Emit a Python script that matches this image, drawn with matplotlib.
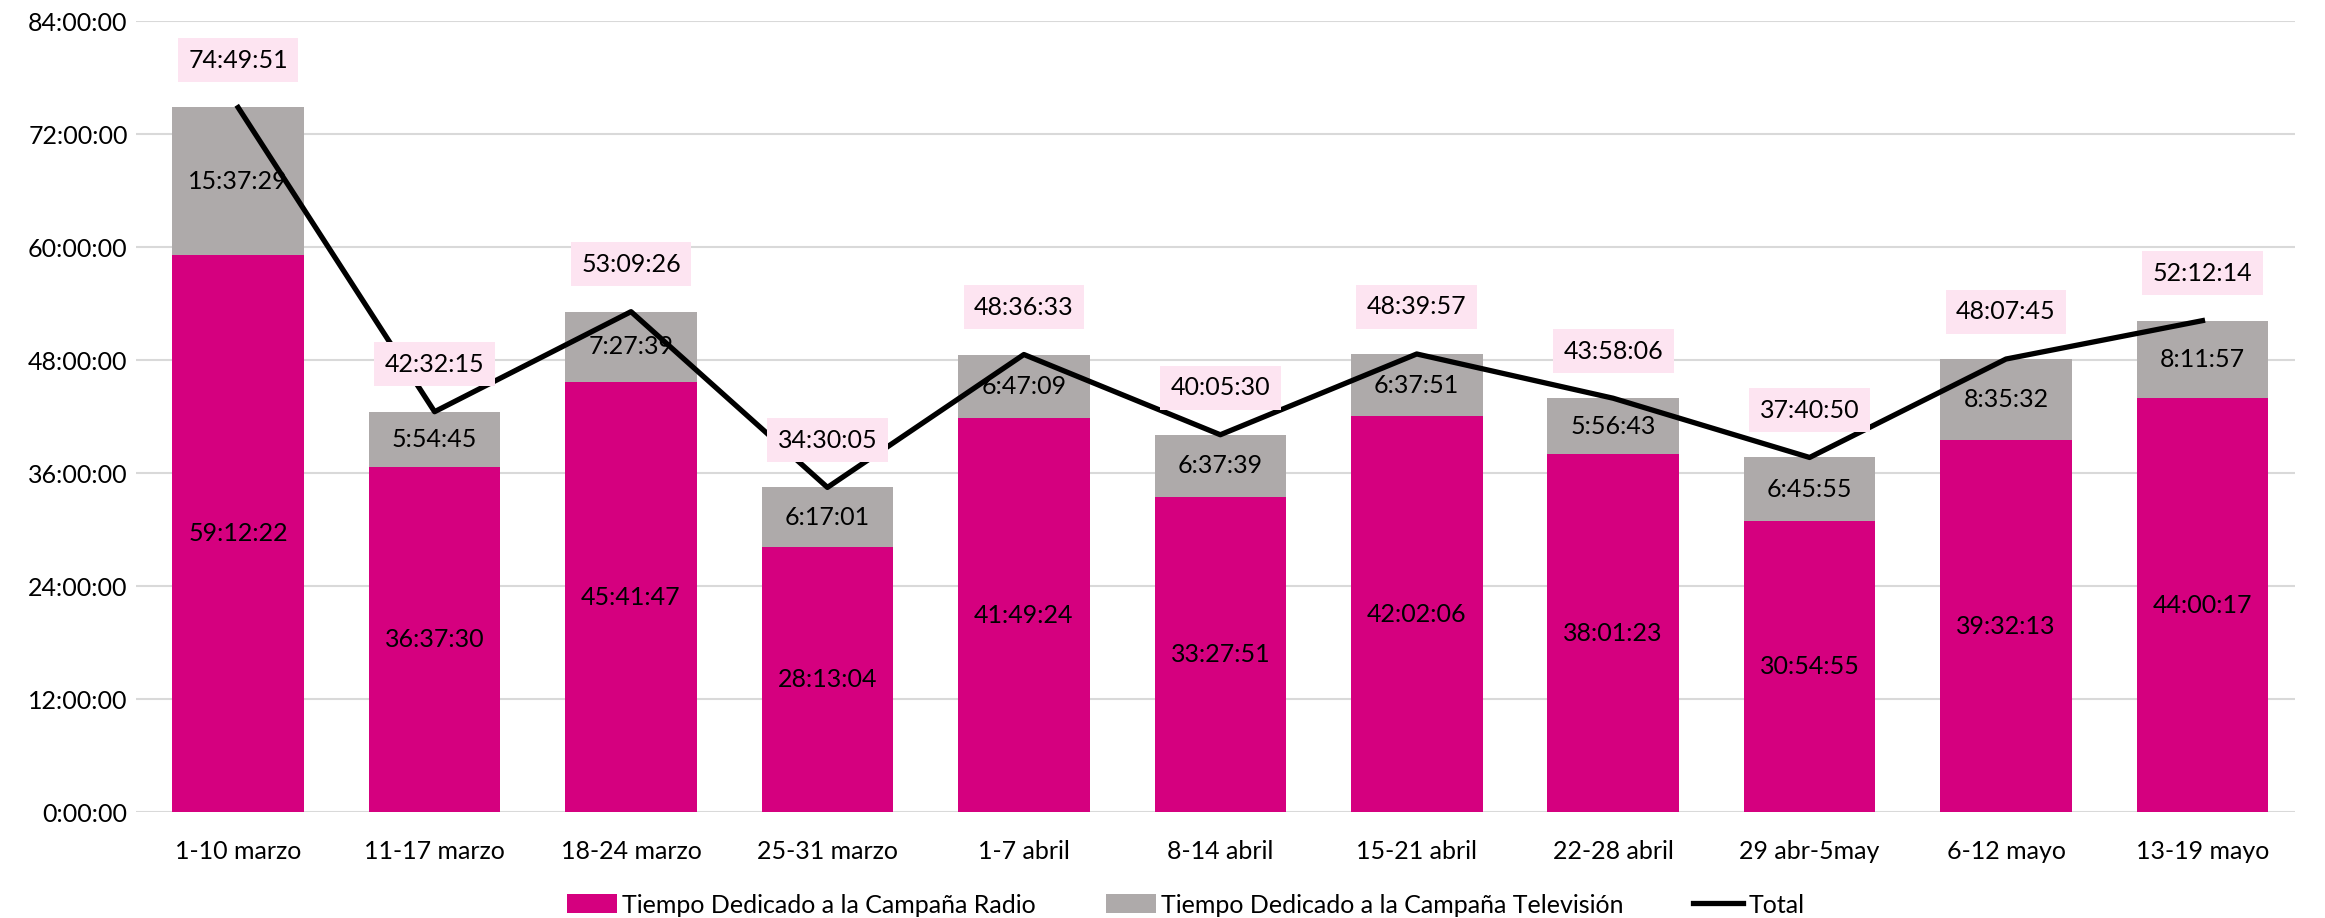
import matplotlib.pyplot as plt
from matplotlib.ticker import FixedLocator, FuncFormatter

plt.rcParams['font.family'] = ['Lato', 'DejaVu Sans']

weeks = ['1-10 marzo', '11-17 marzo', '18-24 marzo', '25-31 marzo', '1-7 abril',
         '8-14 abril', '15-21 abril', '22-28 abril', '29 abr-5may', '6-12 mayo',
         '13-19 mayo']
radio = ['59:12:22', '36:37:30', '45:41:47', '28:13:04', '41:49:24', '33:27:51',
         '42:02:06', '38:01:23', '30:54:55', '39:32:13', '44:00:17']
tele = ['15:37:29', '5:54:45', '7:27:39', '6:17:01', '6:47:09', '6:37:39',
        '6:37:51', '5:56:43', '6:45:55', '8:35:32', '8:11:57']
total = ['74:49:51', '42:32:15', '53:09:26', '34:30:05', '48:36:33', '40:05:30',
         '48:39:57', '43:58:06', '37:40:50', '48:07:45', '52:12:14']


def toHours(s):
    h, m, sec = s.split(':')
    return int(h) + int(m) / 60 + int(sec) / 3600


radioH = [toHours(v) for v in radio]
teleH = [toHours(v) for v in tele]
totalH = [toHours(v) for v in total]
x = list(range(len(weeks)))
fs = 18

fig = plt.figure(figsize=(23.25, 9.18), dpi=100)
ax = fig.add_axes([0.0585, 0.115, 0.9285, 0.862])

b1 = ax.bar(x, radioH, width=0.67, color='#D5007F', label='Tiempo Dedicado a la Campaña Radio', zorder=2)
b2 = ax.bar(x, teleH, width=0.67, bottom=radioH, color='#AEAAAA',
            label='Tiempo Dedicado a la Campaña Televisión', zorder=2)
l1, = ax.plot(x, totalH, color='black', linewidth=3.8, label='Total', zorder=3)

for i in x:
    ax.text(i, radioH[i] / 2, radio[i], ha='center', va='center', fontsize=fs, zorder=4)
    ax.text(i, radioH[i] + teleH[i] / 2, tele[i], ha='center', va='center', fontsize=fs, zorder=4)
    ax.annotate(total[i], (i, totalH[i]), xytext=(0, 34), textcoords='offset points',
                ha='center', va='center', fontsize=fs, zorder=5,
                bbox=dict(boxstyle='square,pad=0.42', fc='#FDE4F1', ec='none'))

ax.set_xlim(-0.52, 10.47)
ax.set_ylim(0, 84)
ax.yaxis.set_major_locator(FixedLocator(range(0, 85, 12)))
ax.yaxis.set_major_formatter(FuncFormatter(lambda v, p: '%d:00:00' % v))
ax.set_xticks(x)
ax.set_xticklabels(weeks)
ax.tick_params(axis='both', length=0, labelsize=fs)
ax.tick_params(axis='x', pad=20)
ax.tick_params(axis='y', pad=6)
ax.grid(axis='y', color='#D9D9D9', linewidth=1.5, zorder=0)
for s in ax.spines.values():
    s.set_visible(False)

fig.legend([b1, b2, l1], [b1.get_label(), b2.get_label(), l1.get_label()],
           loc='lower center', bbox_to_anchor=(0.51, -0.023), ncol=3, frameon=False,
           fontsize=fs, handlelength=2.0, handleheight=0.8, columnspacing=2.8, handletextpad=0.2)

fig.savefig('out.png', dpi=100)
